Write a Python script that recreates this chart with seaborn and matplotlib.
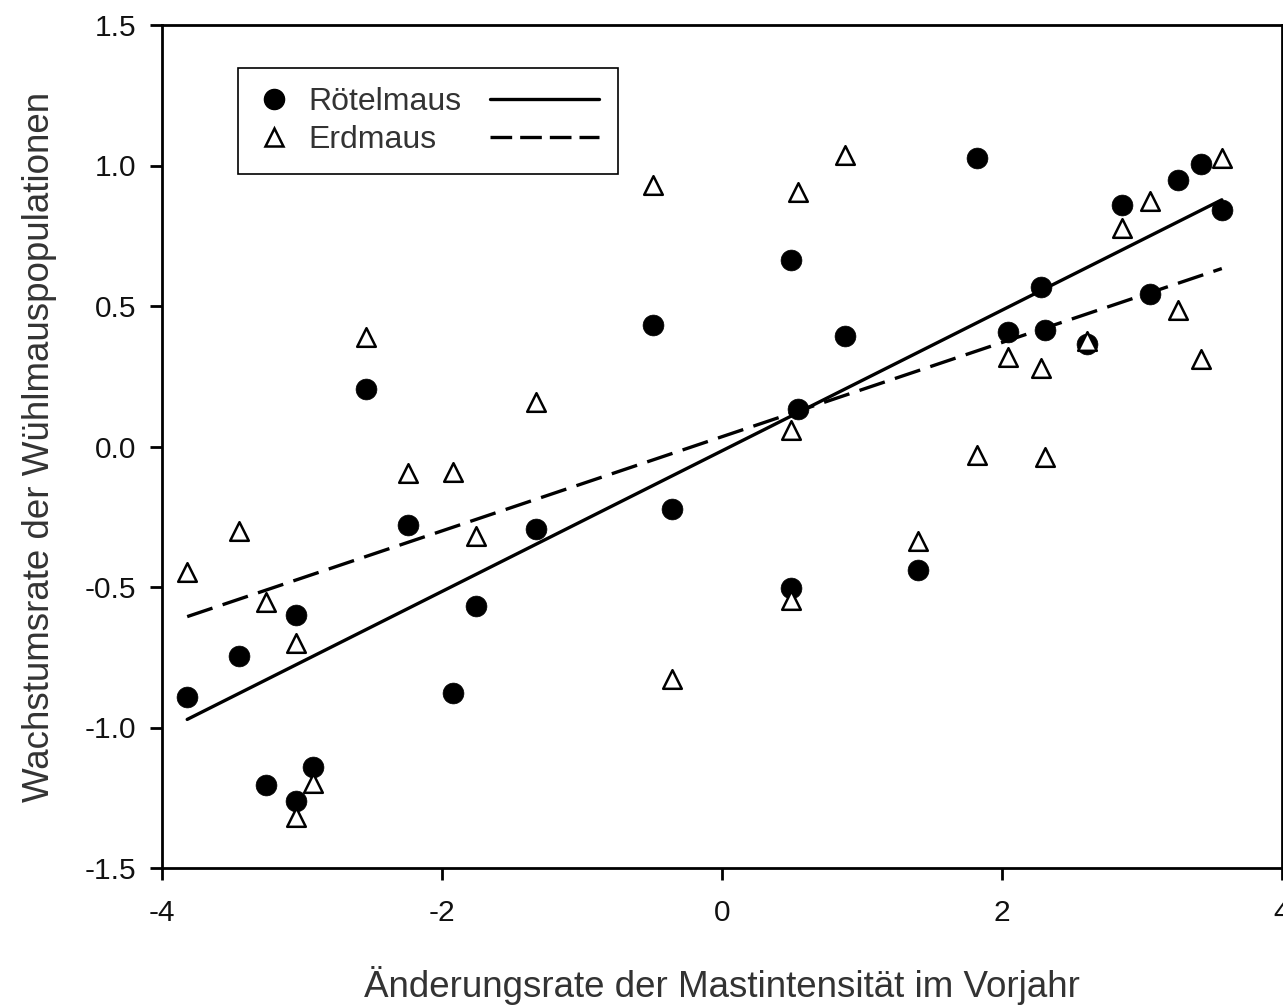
import numpy as np
import pandas as pd
import matplotlib
matplotlib.use("Agg")
import matplotlib.pyplot as plt
import seaborn as sns
from matplotlib.lines import Line2D

# ---- data ----
mast_change = [-3.82, -3.45, -3.26, -3.04, -3.04, -2.92, -2.54, -2.24, -1.92, -1.76,
               -1.33, -0.49, -0.36, 0.49, 0.54, 0.49, 0.88, 1.40, 1.82, 2.04,
               2.28, 2.31, 2.61, 2.86, 3.06, 3.26, 3.42, 3.57]
roetelmaus = [-0.893, -0.744, -1.206, -0.601, -1.260, -1.142, 0.206, -0.278, -0.879, -0.566,
              -0.295, 0.431, -0.221, 0.665, 0.135, -0.502, 0.395, -0.441, 1.028, 0.409,
              0.566, 0.416, 0.363, 0.858, 0.544, 0.950, 1.007, 0.840]
erdmaus = [-0.448, -0.299, -0.555, -0.698, -1.317, -1.196, 0.391, -0.096, -0.089, -0.320,
           0.157, 0.929, -0.829, 0.057, 0.907, -0.548, 1.039, -0.338, -0.032, 0.320,
           0.281, -0.039, 0.377, 0.776, 0.872, 0.484, 0.310, 1.025]
series_names = ["Rötelmaus", "Erdmaus"]
x_ticks = [-4, -2, 0, 2, 4]
x_ticklabels = ["-4", "-2", "0", "2", "4"]
y_ticks = [-1.5, -1.0, -0.5, 0.0, 0.5, 1.0, 1.5]
y_ticklabels = ["-1.5", "-1.0", "-0.5", "0.0", "0.5", "1.0", "1.5"]
x_label = "Änderungsrate der Mastintensität im Vorjahr"
y_label = "Wachstumsrate der Wühlmauspopulationen"

df = pd.DataFrame({"x": mast_change, "r": roetelmaus, "e": erdmaus})

sns.set_style("ticks")
plt.rcParams["font.family"] = ["Liberation Sans", "DejaVu Sans"]
plt.rcParams["axes.unicode_minus"] = False

fig = plt.figure(figsize=(12.83, 10.08), dpi=100)
ax = fig.add_axes([162 / 1283, 140 / 1008, 1120 / 1283, 843 / 1008])

solid_ls = "-"
dash_ls = (0, (8, 3.2))
lw = 2.4

sns.regplot(data=df, x="x", y="r", ax=ax, scatter=False, ci=None, truncate=True,
            line_kws=dict(color="black", lw=lw, linestyle=solid_ls))
sns.regplot(data=df, x="x", y="e", ax=ax, scatter=False, ci=None, truncate=True,
            line_kws=dict(color="black", lw=lw, linestyle=dash_ls))

sns.scatterplot(data=df, x="x", y="r", ax=ax, marker="o", s=225, color="black",
                edgecolor="black", linewidth=0.5, zorder=3)
sns.scatterplot(data=df, x="x", y="e", ax=ax, marker="^", s=180, facecolor="white",
                edgecolor="black", linewidth=1.8, zorder=4)

ax.set_xlim(-4, 4)
ax.set_ylim(-1.5, 1.5)
ax.set_xticks(x_ticks)
ax.set_xticklabels(x_ticklabels)
ax.set_yticks(y_ticks)
ax.set_yticklabels(y_ticklabels)
ax.tick_params(axis="both", direction="out", length=8.5, width=2,
               labelsize=21.5, labelcolor="#111111", color="black")
ax.tick_params(axis="x", pad=14)
ax.tick_params(axis="y", pad=10)
for sp in ax.spines.values():
    sp.set_visible(True)
    sp.set_linewidth(2)
    sp.set_color("black")

ax.set_xlabel(x_label, fontsize=26.5, color="#333333", labelpad=28)
ax.set_ylabel(y_label, fontsize=26.5, color="#333333", labelpad=20)

# ---- legend: marker + label, then line ----
fs = 23
box = (76 / 1120, (868 - 175) / 843, 380 / 1120, 107 / 843)
mk_handles = [
    Line2D([], [], marker="o", linestyle="none", markersize=14.5, color="black"),
    Line2D([], [], marker="^", linestyle="none", markersize=13, markerfacecolor="white",
           markeredgecolor="black", markeredgewidth=1.8),
]
leg1 = ax.legend(mk_handles, series_names, loc="upper left", bbox_to_anchor=box,
                 mode="expand", borderaxespad=0, frameon=True, fancybox=False,
                 edgecolor="black", framealpha=1, fontsize=fs, handlelength=1.05,
                 handletextpad=0.55, borderpad=0.6, labelspacing=0.25, labelcolor="#333333")
leg1.get_frame().set_linewidth(1.2)
ax.add_artist(leg1)

ln_handles = [
    Line2D([], [], color="black", lw=lw, linestyle=solid_ls),
    Line2D([], [], color="black", lw=lw, linestyle=(0, (6.5, 2.4))),
]
leg2 = ax.legend(ln_handles, ["", ""], loc="upper right", bbox_to_anchor=box,
                 borderaxespad=0, frameon=False, fontsize=fs, handlelength=3.4,
                 handletextpad=0, borderpad=0.6, labelspacing=0.25)

fig.savefig("out.png", dpi=100)
